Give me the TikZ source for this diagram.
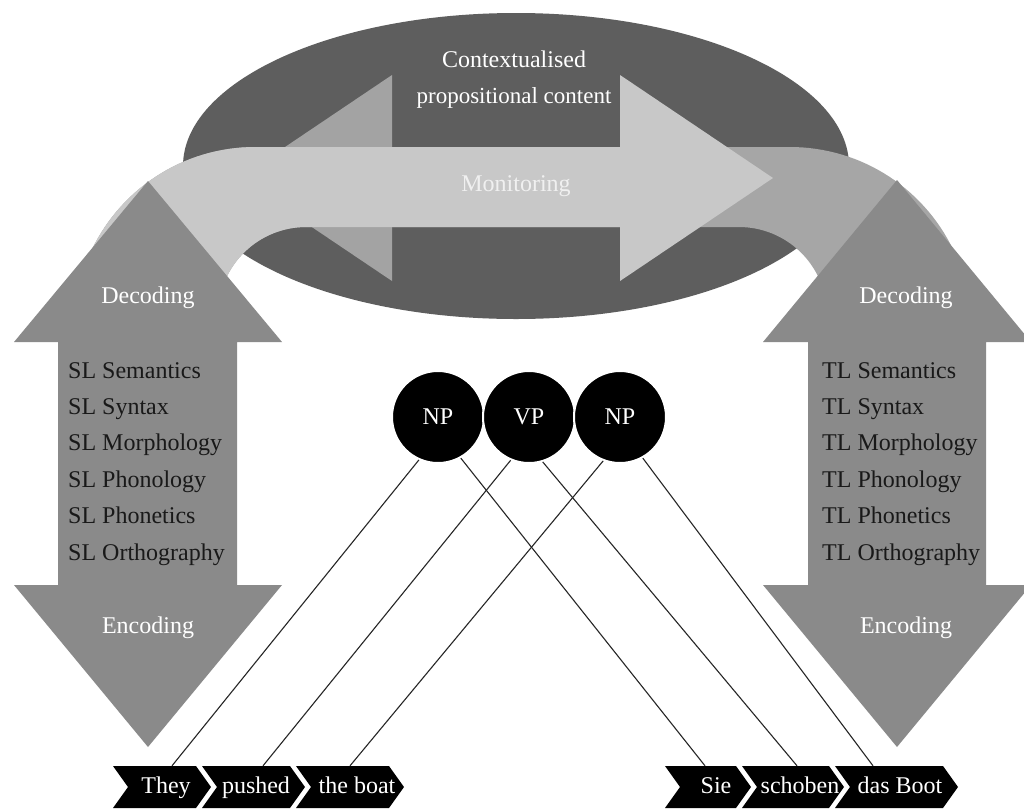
\documentclass[tikz,border=0pt]{standalone}
\usepackage{fontspec}
\setmainfont{Liberation Serif}
\definecolor{ellc}{HTML}{5E5E5E}
\definecolor{vertc}{HTML}{8A8A8A}
\definecolor{bandlight}{HTML}{C8C8C8}
\definecolor{bandmed}{HTML}{A6A6A6}
\definecolor{lheadc}{HTML}{A3A3A3}
\newcommand\bandshape{(76,300) -- plot[domain=171.1:90,samples=40] ({255+181*cos(\x)},{328-181*sin(\x)}) -- plot[domain=90:8.9,samples=40] ({790+181*cos(\x)},{328-181*sin(\x)}) -- plot[domain=9.8:90,samples=30] ({739+88*cos(\x)},{315-88*sin(\x)}) -- plot[domain=90:170.2,samples=30] ({306+88*cos(\x)},{315-88*sin(\x)}) -- cycle}
\newcommand\chevron[2]{\fill[black] (#1,766) -- (#2,766) -- (#2+15,787) -- (#2,808) -- (#1,808) -- (#1+15,787) -- cycle;}
\begin{document}
\begin{tikzpicture}[x=1pt,y=-1pt,
  txt/.style={font=\fontsize{24}{36}\selectfont, inner sep=0pt},
  wtxt/.style={txt, text=white},
  dtxt/.style={txt, text=black!90, anchor=base west},
  phrase/.style={circle, fill=black, draw=white, line width=2pt, minimum size=92pt, inner sep=0pt, text=white, font=\fontsize{24}{28}\selectfont},
  chevtxt/.style={wtxt, text height=17pt, text depth=5pt, minimum height=42pt},
  conn/.style={draw=black!85, line width=1.1pt}]
\useasboundingbox (0,0) rectangle (1024,809);
\fill[white] (0,0) rectangle (1024,809);
% ellipse
\fill[ellc] (516,166) ellipse [x radius=333, y radius=153];
% left-pointing head (behind band)
\fill[lheadc] (392,75) -- (239,178) -- (392,281) -- cycle;
% monitoring band
\fill[bandmed] \bandshape;
\begin{scope}
  \clip (0,0) rectangle (700,809);
  \fill[bandlight] \bandshape;
\end{scope}
% right-pointing head
\fill[bandlight] (620,75) -- (773,178) -- (620,281) -- cycle;
% vertical double arrows
\fill[vertc] (148,181) -- (282,342) -- (237,342) -- (237,585) -- (282,585) -- (148,747) -- (14,585) -- (58,585) -- (58,342) -- (14,342) -- cycle;
\fill[vertc] (897,180) -- (1031,342) -- (986,342) -- (986,585) -- (1031,585) -- (897,747) -- (763,585) -- (808,585) -- (808,342) -- (763,342) -- cycle;
% texts
\node[wtxt, align=center] (ctx) at (514,80) {Contextualised\\\fontsize{23}{36}\selectfont propositional content};
\node[txt, text=white!94!black] (mon) at (516,186) {Monitoring};
\node[wtxt] (decL) at (148,298) {Decoding};
\node[wtxt] (encL) at (148,628) {Encoding};
\node[wtxt] (decR) at (906,298) {Decoding};
\node[wtxt] (encR) at (906,628) {Encoding};
\foreach \t [count=\i] in {Semantics,Syntax,Morphology,Phonology,Phonetics,Orthography}{
  \node[dtxt] (sl\i) at (68,{378+36.4*(\i-1)}) {SL \t};
  \node[dtxt] (tl\i) at (822,{378+36.4*(\i-1)}) {TL \t};
}
% chevrons
\chevron{113}{196}
\chevron{202}{290}
\chevron{296}{389}
\chevron{665}{736}
\chevron{742}{829}
\chevron{835}{943}
\node[chevtxt] (they) at (166,787) {They};
\node[chevtxt] (pushed) at (256,787) {pushed};
\node[chevtxt] (boat) at (357,787) {the boat};
\node[chevtxt] (sie) at (716,787) {Sie};
\node[chevtxt] (schoben) at (800,787) {schoben};
\node[chevtxt] (dasboot) at (900,787) {das Boot};
% phrase circles
\node[phrase] (np1) at (438,417) {NP};
\node[phrase] (vp) at (529,417) {VP};
\node[phrase] (np2) at (620,417) {NP};
% connectors
\draw[conn] (np1.246) -- ([xshift=6pt]they.north);
\draw[conn] (vp.247) -- ([xshift=7pt]pushed.north);
\draw[conn] (np2.249) -- ([xshift=-7pt]boat.north);
\draw[conn] (np1.299) -- ([xshift=-11pt]sie.north);
\draw[conn] (vp.287) -- ([xshift=-3pt]schoben.north);
\draw[conn] (np2.299) -- ([xshift=-27pt]dasboot.north);
\end{tikzpicture}
\end{document}
